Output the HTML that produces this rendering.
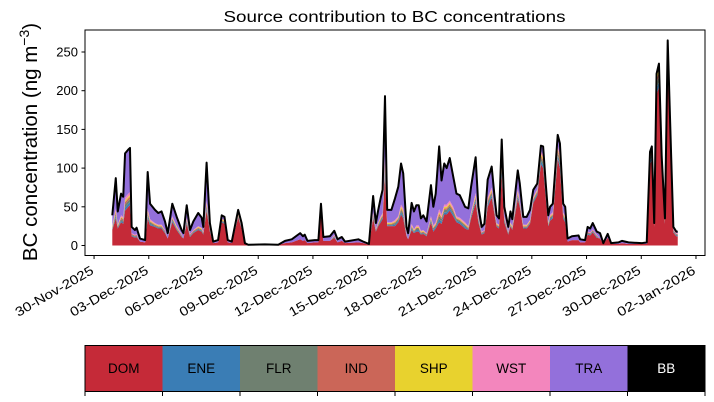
<!DOCTYPE html>
<html><head><meta charset="utf-8"><style>
body{margin:0;background:#fff}
svg{display:block;font-family:"Liberation Sans","DejaVu Sans",sans-serif}
</style></head><body>
<svg id="chart" width="714" height="402" viewBox="0 0 714 402" xmlns="http://www.w3.org/2000/svg">
<rect width="714" height="402" fill="#fff"/>
<text x="394.5" y="22" font-size="15.5" text-anchor="middle" textLength="342" lengthAdjust="spacingAndGlyphs">Source contribution to BC concentrations</text>
<text transform="translate(37,142) rotate(-90)" font-size="20.5" text-anchor="middle">BC concentration (ng m<tspan dy="-8" font-size="14">−3</tspan><tspan dy="8">)</tspan></text>
<g id="stack"></g>
<g id="yaxis"></g>
<g id="xaxis"></g>
<rect x="85" y="30" width="620" height="225.5" fill="none" stroke="#000" stroke-width="1"/>
<g id="legend"></g>
</svg>
<script>
const times=[0,0.19,0.3,0.48,0.6,0.7,0.88,0.97,1.06,1.24,1.33,1.52,1.8,1.94,2.07,2.34,2.52,2.7,2.89,3.04,3.29,3.53,3.8,3.9,4.08,4.26,4.44,4.71,4.9,4.99,5.17,5.35,5.53,5.8,6.0,6.15,6.33,6.55,6.9,7.09,7.27,7.45,8.36,9.1,9.47,9.84,10.3,10.45,10.55,10.7,11.1,11.3,11.44,11.57,11.93,12.17,12.35,12.58,12.76,13.49,13.76,14.07,14.3,14.45,14.58,14.72,14.82,14.95,15.07,15.3,15.5,15.68,15.83,15.95,16.13,16.22,16.41,16.54,16.67,16.8,16.92,17.05,17.23,17.47,17.6,17.73,17.92,18.05,18.2,18.33,18.5,18.69,18.87,19.05,19.34,19.52,19.67,19.92,20.07,20.25,20.4,20.58,20.8,20.94,21.07,21.2,21.35,21.49,21.71,21.83,21.93,22.23,22.34,22.53,22.72,22.9,23.08,23.3,23.5,23.62,23.75,23.9,24,24.15,24.42,24.54,24.72,24.83,24.96,25.2,25.56,25.65,25.92,26.06,26.2,26.34,26.56,26.74,26.92,27.16,27.35,27.75,27.94,28.3,29.02,29.3,29.48,29.58,29.71,29.84,29.97,30.12,30.3,30.45,30.64,30.76,30.92,31.0];
const total=[39,87,44,67,63,119,124,126,24,20,23,9,7,95,54,46,42,44,31,16,54,37,20,16,52,20,31,42,36,24,107,29,5,7,39,37,7,5,46,29,3,1,1.5,1,6,8,16,12,14,6,7,7,54,11,12,19,8,11,5,8,5,2,64,29,46,62,72,193,46,46,61,76,106,93,24,16,55,44,52,52,35,39,31,78,50,67,128,84,106,100,113,89,67,65,50,48,76,114,50,24,28,85,102,67,39,35,137,50,24,44,34,97,80,37,37,46,72,80,129,128,84,39,50,54,143,132,54,50,9,12,13,8,7,24,22,29,18,16,3,15,3,4,6,4,3,4,121,128,29,222,235,115,35,265,115,24,18,18];
const dom=[20,35,22,30,28,45,50,52,12,10,11,5,4,35,26,24,22,22,16,9,30,20,11,9,28,11,16,20,18,14,45,18,3,4,30,28,4,3,36,22,2,0.6,1,0.6,3,4,8,6,7,3,4,4,40,6,6,10,4,6,3,4,3,1,35,18,25,30,34,90,25,25,25,30,40,35,12,8,20,16,18,18,14,15,12,30,18,22,30,28,40,40,45,38,30,28,22,20,35,55,30,14,16,50,62,42,24,22,90,30,14,25,20,60,50,22,22,28,55,65,105,100,65,25,32,35,112,100,35,30,5,7,7,4,4,14,13,17,10,9,2,10,2,2,3,2,2,2,105,110,24,195,205,100,28,230,98,17,12,12];
const ene=[1,3,1,2,2,4,4,4,1,1,1,0,0,3,2,1,1,1,1,0,2,1,1,0,2,1,1,1,1,1,3,1,0,0,1,1,0,0,1,1,0,0,0,0,0,0,0,0,0,0,0,0,2,0,0,1,0,0,0,0,0,0,2,1,1,2,2,6,1,1,2,2,3,3,1,0,2,1,2,2,1,1,1,2,2,2,4,3,3,3,3,3,2,2,2,1,2,3,2,1,1,3,3,2,1,1,4,2,1,1,1,3,2,1,1,1,2,2,4,4,3,1,2,2,4,4,2,2,0,0,0,0,0,1,1,1,1,0,0,0,0,0,0,0,0,0,4,4,1,7,7,3,1,8,3,1,1,1];
const flr=[1,3,1,2,2,4,4,4,1,1,1,0,0,3,2,1,1,1,1,0,2,1,1,0,2,1,1,1,1,1,3,1,0,0,1,1,0,0,1,1,0,0,0,0,0,0,0,0,0,0,0,0,2,0,0,1,0,0,0,0,0,0,2,1,1,2,2,6,1,1,2,2,3,3,1,0,2,1,2,2,1,1,1,2,2,2,4,3,3,3,3,3,2,2,2,1,2,3,2,1,1,3,3,2,1,1,4,2,1,1,1,3,2,1,1,1,2,2,4,4,3,1,2,2,4,4,2,2,0,0,0,0,0,1,1,1,1,0,0,0,0,0,0,0,0,0,4,4,1,7,7,3,1,8,3,1,1,1];
const ind=[1,2,1,2,2,3,3,3,1,1,1,0,0,2,1,1,1,1,1,0,1,1,1,0,1,1,1,1,1,1,2,1,0,0,1,1,0,0,1,1,0,0,0,0,0,0,0,0,0,0,0,0,1,0,0,1,0,0,0,0,0,0,1,1,1,1,1,4,1,1,1,1,2,2,1,0,1,1,1,1,1,1,1,1,1,1,3,2,2,2,2,2,1,1,1,1,1,2,1,1,1,2,2,1,1,1,3,1,1,1,1,2,1,1,1,1,1,1,3,3,2,1,1,1,3,3,1,1,0,0,0,0,0,1,1,1,1,0,0,0,0,0,0,0,0,0,3,3,1,5,5,2,1,6,2,1,1,1];
const shp=[1,2,1,1,1,2,2,2,0,0,0,0,0,2,1,1,1,1,0,0,1,1,0,0,1,0,0,1,1,0,2,0,0,0,1,1,0,0,1,0,0,0,0,0,0,0,0,0,0,0,0,0,1,0,0,0,0,0,0,0,0,0,1,0,1,1,1,3,1,1,1,1,2,2,0,0,1,1,1,1,1,1,0,1,1,1,2,1,2,2,2,1,1,1,1,1,1,2,1,0,0,1,2,1,1,1,2,1,0,1,1,2,1,1,1,1,1,1,2,2,1,1,1,1,2,2,1,1,0,0,0,0,0,0,0,0,0,0,0,0,0,0,0,0,0,0,2,2,0,4,4,2,1,4,2,0,0,0];
const wst=[1,3,1,2,2,4,4,4,1,1,1,0,0,3,2,1,1,1,1,0,2,1,1,0,2,1,1,1,1,1,3,1,0,0,1,1,0,0,1,1,0,0,0,0,0,0,0,0,0,0,0,0,2,0,0,1,0,0,0,0,0,0,2,1,1,2,2,6,1,1,2,2,3,3,1,0,2,1,2,2,1,1,1,2,2,2,4,3,3,3,3,3,2,2,2,1,2,3,2,1,1,3,3,2,1,1,4,2,1,1,1,3,2,1,1,1,2,2,4,4,3,1,2,2,4,4,2,2,0,0,0,0,0,1,1,1,1,0,0,0,0,0,0,0,0,0,4,4,1,7,7,3,1,8,3,1,1,1];
const yTicks=[0,50,100,150,200,250];
const xTickLabels=["30-Nov-2025","03-Dec-2025","06-Dec-2025","09-Dec-2025","12-Dec-2025","15-Dec-2025","18-Dec-2025","21-Dec-2025","24-Dec-2025","27-Dec-2025","30-Dec-2025","02-Jan-2026"];
const xTickDays=[-1,2,5,8,11,14,17,20,23,26,29,32];
const sourceNames=["DOM","ENE","FLR","IND","SHP","WST","TRA","BB"];
const sourceColors=["#c52a38","#3a7db5","#6f8070","#cb6658","#e8d22e","#f386bd","#9370db","#000000"];

const NS="http://www.w3.org/2000/svg";
const xS=d=>112.3+d*18.24;
const yS=v=>245.5-v*0.774;
function mk(tag,attrs,parent){const e=document.createElementNS(NS,tag);for(const k in attrs)e.setAttribute(k,attrs[k]);parent.appendChild(e);return e;}

const tra=total.map((t,i)=>Math.max(0,t-dom[i]-ene[i]-flr[i]-ind[i]-shp[i]-wst[i]));
const layers=[dom,ene,flr,ind,shp,wst,tra];
const stack=document.getElementById('stack');
let base=times.map(()=>0);
layers.forEach((arr,li)=>{
  const top=base.map((b,i)=>b+arr[i]);
  let d="M"+times.map((t,i)=>xS(t).toFixed(2)+","+yS(top[i]).toFixed(2)).join("L");
  for(let i=times.length-1;i>=0;i--)d+="L"+xS(times[i]).toFixed(2)+","+yS(base[i]).toFixed(2);
  const p=mk('path',{d:d+"Z",fill:sourceColors[li],stroke:'none'},stack);
  
  
  base=top;
});
const line=mk('path',{d:"M"+times.map((t,i)=>xS(t).toFixed(2)+","+yS(total[i]).toFixed(2)).join("L"),fill:'none',stroke:'#000','stroke-width':2,'stroke-linejoin':'round'},stack);



const ya=document.getElementById('yaxis');
yTicks.forEach(v=>{
  const tk=mk('line',{x1:81.5,x2:85,y1:yS(v),y2:yS(v),stroke:'#000'},ya);
  
  
  const t=mk('text',{x:78,y:yS(v)+4.5,'font-size':13,'text-anchor':'end'},ya);
  t.textContent=v;
  
  
});
const xa=document.getElementById('xaxis');
xTickDays.forEach((d,i)=>{
  const x=xS(d);
  const tk=mk('line',{x1:x,x2:x,y1:255.5,y2:259,stroke:'#000'},xa);
  
  
  const t=mk('text',{transform:`translate(${x+0.5},${273}) rotate(-30)`,'font-size':13,'text-anchor':'end',textLength:88,lengthAdjust:'spacingAndGlyphs'},xa);
  t.textContent=xTickLabels[i];
  
  
});
const lg=document.getElementById('legend');
const cw=620/8;
sourceNames.forEach((n,i)=>{
  const x=85+i*cw;
  const r=mk('rect',{x:x,y:345.5,width:cw,height:46,fill:sourceColors[i]},lg);
  
  
  const t=mk('text',{x:x+cw/2,y:373,'font-size':13.5,'text-anchor':'middle',fill:n==='BB'?'#fff':'#000'},lg);
  t.textContent=n;
  
  
});
for(let i=0;i<=8;i++){
  const x=85+i*cw;
  const tk=mk('line',{x1:x,x2:x,y1:391.5,y2:396,stroke:'#000'},lg);
  
  
}
const fr=mk('rect',{x:85,y:345.5,width:620,height:46,fill:'none',stroke:'#000'},lg);


</script>
</body></html>
